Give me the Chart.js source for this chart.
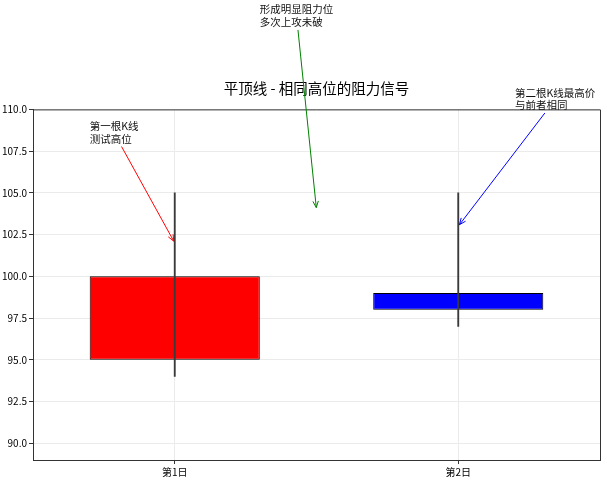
<!DOCTYPE html>
<html>
<head>
<meta charset="utf-8">
<script src="https://cdn.jsdelivr.net/npm/chart.js@4.4.1/dist/chart.umd.min.js"></script>
<style>
  html, body { margin: 0; padding: 0; background: #fff; }
  #wrap { width: 607px; height: 481px; }
</style>
</head>
<body>
<div id="wrap"><canvas id="myChart"></canvas></div>
<script>
const days = ["第1日", "第2日"];
const opens = [95, 98];
const closes = [100, 99];
const highs = [105, 105];
const lows = [94, 97];
const boxColors = ["red", "blue"];
const yTicks = [90, 92.5, 95, 97.5, 100, 102.5, 105, 107.5, 110];

// annotation text, arrow target (x, y) and text anchor (tx, ty) in data units
const noteTexts = [["第一根K线", "测试高位"], ["形成明显阻力位", "多次上攻未破"], ["第二根K线最高价", "与前者相同"]];
const noteTargets = [[0, 102], [0.5, 104], [1, 103]];
const noteAnchors = [[-0.3, 108], [0.3, 115], [1.2, 110]];
const noteColors = ["red", "green", "blue"];

const FONT = "'Noto Sans CJK SC', 'DejaVu Sans', sans-serif";

function catPixel(scale, v) {
  // fractional category positions
  const p0 = scale.getPixelForValue(0);
  const p1 = scale.getPixelForValue(1);
  return p0 + (p1 - p0) * v;
}

const extras = {
  id: "extras",
  afterDraw(chart) {
    const ctx = chart.ctx;
    const a = chart.chartArea;
    const xs = chart.scales.x, ys = chart.scales.y;
    ctx.save();
    // top and right spines
    ctx.strokeStyle = "#333";
    ctx.lineWidth = 1;
    ctx.beginPath();
    ctx.moveTo(a.left, a.top + 0.5);
    ctx.lineTo(a.right + 0.5, a.top + 0.5);
    ctx.lineTo(a.right + 0.5, a.bottom);
    ctx.stroke();

    ctx.font = "10.5px " + FONT;
    const lh = 12.5;
    noteTexts.forEach((lines, i) => {
      const tx = catPixel(xs, noteAnchors[i][0]);
      const baseY = ys.getPixelForValue(noteAnchors[i][1]);
      const w = Math.max(...lines.map(l => ctx.measureText(l).width));
      const top = baseY - (lines.length - 1) * lh - 9;
      const bottom = baseY + 2;
      const cx = tx + w / 2, cy = (top + bottom) / 2;
      ctx.fillStyle = "#111";
      ctx.textAlign = "left";
      ctx.textBaseline = "alphabetic";
      lines.forEach((l, k) => ctx.fillText(l, tx, baseY - (lines.length - 1 - k) * lh));

      const px = catPixel(xs, noteTargets[i][0]);
      const py = ys.getPixelForValue(noteTargets[i][1]);
      // clip line from bbox centre to bbox edge
      let dx = px - cx, dy = py - cy;
      let t = 1;
      if (dy !== 0) t = Math.min(t, Math.abs(((dy > 0 ? bottom : top) - cy) / dy));
      if (dx !== 0) t = Math.min(t, Math.abs(((dx > 0 ? tx + w : tx) - cx) / dx));
      const len = Math.hypot(dx, dy);
      const ux = dx / len, uy = dy / len;
      const sx = cx + dx * t + ux * 2, sy = cy + dy * t + uy * 2;
      const ex = px - ux * 2, ey = py - uy * 2;
      ctx.strokeStyle = noteColors[i];
      ctx.lineWidth = 1;
      ctx.beginPath();
      ctx.moveTo(sx, sy);
      ctx.lineTo(ex, ey);
      const ang = Math.atan2(uy, ux);
      const hl = 7, ha = 0.4;
      ctx.moveTo(ex - hl * Math.cos(ang - ha), ey - hl * Math.sin(ang - ha));
      ctx.lineTo(ex, ey);
      ctx.lineTo(ex - hl * Math.cos(ang + ha), ey - hl * Math.sin(ang + ha));
      ctx.stroke();
    });
    ctx.restore();
  }
};

const myChart = new Chart(document.getElementById("myChart"), {
  type: "bar",
  data: {
    labels: days,
    datasets: [
      {
        label: "wick",
        data: days.map((_, i) => [lows[i], highs[i]]),
        backgroundColor: "#3a3a3a",
        barThickness: 1.2,
        grouped: false,
        order: 0
      },
      {
        label: "body",
        data: days.map((_, i) => [opens[i], closes[i]]),
        backgroundColor: boxColors,
        borderColor: "#000",
        borderWidth: 1,
        borderSkipped: false,
        barPercentage: 0.6,
        categoryPercentage: 1,
        grouped: false,
        order: 1
      }
    ]
  },
  options: {
    responsive: true,
    maintainAspectRatio: false,
    animation: false,
    layout: { padding: { left: 0, right: 7, top: 80, bottom: 1 } },
    plugins: {
      legend: { display: false },
      tooltip: { enabled: false },
      title: {
        display: true,
        text: "平顶线 - 相同高位的阻力信号",
        color: "#000",
        fullSize: false,
        font: { family: FONT, size: 14.5, weight: "normal" },
        padding: { top: 0, bottom: 12 }
      }
    },
    scales: {
      x: {
        offset: true,
        grid: { offset: false, color: "#ebebeb", tickColor: "#333", tickLength: 4 },
        border: { color: "#333" },
        ticks: { color: "#000", font: { family: FONT, size: 10 }, padding: 2 }
      },
      y: {
        min: 89,
        max: 110,
        afterBuildTicks: s => { s.ticks = yTicks.map(v => ({ value: v })); },
        afterFit: s => { s.width = 33; },
        grid: { color: "#ebebeb", tickColor: "#333", tickLength: 4 },
        border: { color: "#333" },
        ticks: {
          color: "#000",
          font: { family: FONT, size: 10 },
          padding: 2,
          callback: v => Number(v).toFixed(1)
        }
      }
    }
  },
  plugins: [extras]
});
</script>
</body>
</html>
